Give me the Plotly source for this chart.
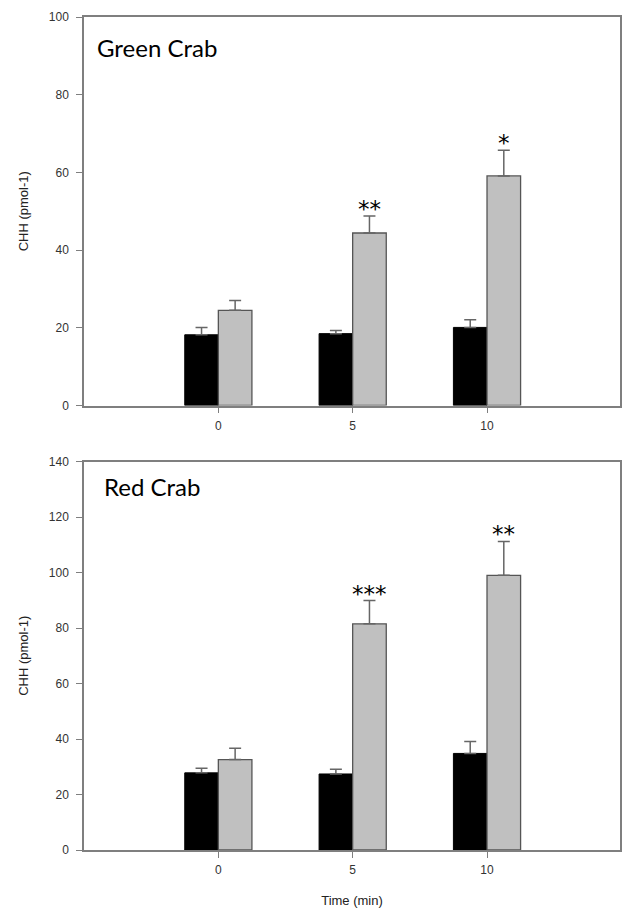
import plotly.graph_objects as go
from plotly.subplots import make_subplots

# ---- data ----
times = [0, 5, 10]
time_labels = ["0", "5", "10"]

green_black = [18.2, 18.5, 20.1]
green_black_err = [1.9, 0.8, 2.0]
green_gray = [24.5, 44.4, 59.1]
green_gray_err = [2.5, 4.4, 6.6]
green_sig = ["", "**", "*"]

red_black = [27.8, 27.4, 34.8]
red_black_err = [1.7, 1.7, 4.3]
red_gray = [32.6, 81.5, 99.0]
red_gray_err = [4.1, 8.4, 12.2]
red_sig = ["", "***", "**"]

panel_names = ["Green Crab", "Red Crab"]
y_ranges = [[0, 100], [0, 140]]
y_dticks = [20, 20]

BAR_W = 1.25
AXIS_COLOR = "#7f7f7f"
ERR_COLOR = "#666666"

fig = make_subplots(rows=2, cols=1, vertical_spacing=(461 - 405) / 833)

panels = [
    (green_black, green_black_err, green_gray, green_gray_err, green_sig),
    (red_black, red_black_err, red_gray, red_gray_err, red_sig),
]

for i, (bk, bke, gr, gre, sig) in enumerate(panels, start=1):
    xr = f"x{i}" if i > 1 else "x"
    yr = f"y{i}" if i > 1 else "y"
    fig.add_trace(go.Bar(
        x=times, y=bk, width=BAR_W, offset=-BAR_W,
        marker=dict(color="#000000", line=dict(color="#000000", width=1)),
        error_y=dict(type="data", symmetric=False, array=bke,
                     arrayminus=[0] * len(bke), color=ERR_COLOR,
                     thickness=1.5, width=6),
        showlegend=False, hoverinfo="skip"), row=i, col=1)
    fig.add_trace(go.Bar(
        x=times, y=gr, width=BAR_W, offset=0,
        marker=dict(color="#c0c0c0", line=dict(color="#555555", width=1.3)),
        error_y=dict(type="data", symmetric=False, array=gre,
                     arrayminus=[0] * len(gre), color=ERR_COLOR,
                     thickness=1.5, width=6),
        showlegend=False, hoverinfo="skip"), row=i, col=1)
    for t, g, e, s in zip(times, gr, gre, sig):
        if s:
            fig.add_annotation(
                x=t + BAR_W / 2, y=g + e, xref=xr, yref=yr, text=s,
                showarrow=False, yanchor="bottom", yshift=-8,
                font=dict(family="DejaVu Sans", size=23, color="#000000"))
    fig.add_annotation(
        x=0, y=1, xref=f"{xr} domain", yref=f"{yr} domain",
        text=panel_names[i - 1], showarrow=False, xanchor="left", yanchor="top",
        xshift=11 if i == 1 else 18, yshift=-14 if i == 1 else -8,
        font=dict(family="Lato", size=24, color="#000000"))

axis_common = dict(showline=True, linecolor=AXIS_COLOR, linewidth=1.5,
                   ticks="outside", tickcolor=AXIS_COLOR,
                   ticklen=6, tickwidth=1.2, showgrid=False, zeroline=False,
                   tickfont=dict(family="Liberation Sans", size=12, color="#333333"))

for i in (1, 2):
    fig.update_xaxes(range=[-5, 14.95], tickvals=times, ticktext=time_labels,
                     mirror=True, ticklabelstandoff=2, row=i, col=1, **axis_common)
    fig.update_yaxes(range=y_ranges[i - 1], dtick=y_dticks[i - 1], row=i, col=1,
                     mirror=True, ticklabelstandoff=5,
                     title=dict(text="CHH (pmol-1)", standoff=17,
                                font=dict(family="Liberation Sans", size=13, color="#222222")),
                     **axis_common)

fig.update_xaxes(title=dict(text="Time (min)", standoff=20,
                            font=dict(family="Liberation Sans", size=13, color="#222222")),
                 row=2, col=1)

fig.update_layout(
    width=622, height=912, barmode="overlay",
    margin=dict(l=84, r=0, t=17, b=62),
    paper_bgcolor="white", plot_bgcolor="white",
)

fig.write_html("out.html", config={"displayModeBar": False},
               post_script="document.body.style.margin='0';")
